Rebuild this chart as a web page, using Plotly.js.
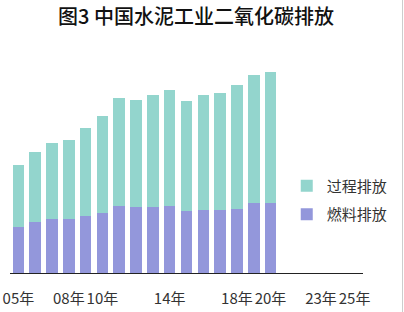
<!DOCTYPE html>
<html>
<head>
<meta charset="utf-8">
<script src="https://cdn.plot.ly/plotly-3.0.1.min.js"></script>
<style>html,body{margin:0;padding:0;background:#fff;}#chart{width:404px;height:312px;}</style>
</head>
<body>
<div id="chart"></div>
<script>
var years = [2005,2006,2007,2008,2009,2010,2011,2012,2013,2014,2015,2016,2017,2018,2019,2020];
var fuelEmission = [278,306,326,326,344,362,404,396,396,404,372,380,380,386,420,420];
var processEmission = [370,420,452,470,528,580,644,640,670,696,658,686,702,740,768,784];
var tickYears = [2005,2008,2010,2014,2018,2020,2023,2025];
var tickLabels = ['05年','08年','10年','14年','18年','20年','23年','25年'];
var seriesNames = ['燃料排放','过程排放'];

var FONT = '"Noto Sans CJK SC", "Noto Sans", sans-serif';

var data = [
  {type:'bar', name:seriesNames[0], x:years, y:fuelEmission, legendgroup:'fuel', legendrank:2,
   marker:{color:'#9397db', line:{width:0}}},
  {type:'bar', name:seriesNames[1], x:years, y:processEmission, legendgroup:'process', legendrank:1,
   marker:{color:'#93d5cd', line:{width:0}}}
];

var layout = {
  width:404, height:312,
  margin:{l:10, r:41, t:60, b:39},
  paper_bgcolor:'#ffffff', plot_bgcolor:'#ffffff',
  font:{family:FONT, color:'#333'},
  title:{text:'图3 中国水泥工业二氧化碳排放', font:{family:FONT, size:20, color:'#111', weight:500},
         x:0.485, xanchor:'center', y:0.945, yanchor:'middle', yref:'container'},
  barmode:'stack', bargap:0.31,
  xaxis:{type:'linear', range:[2004.5,2025.5], tickvals:tickYears, ticktext:tickLabels,
         tickangle:0, automargin:false,
         showline:true, linecolor:'#222', linewidth:1, showgrid:false, zeroline:false,
         ticks:'', ticklabelstandoff:12, tickfont:{family:FONT, size:15, color:'#333'}},
  yaxis:{visible:false, range:[0,1278], showgrid:false, zeroline:false},
  showlegend:true,
  legend:{x:0.784, xanchor:'left', y:0.343, yanchor:'middle', traceorder:'grouped',
          tracegroupgap:6, bgcolor:'rgba(0,0,0,0)', font:{family:FONT, size:15, color:'#333'}},
  shapes:[{type:'line', xref:'paper', yref:'paper', x0:1.112, x1:1.112, y0:-0.2, y1:1.3,
           line:{color:'#cccccc', width:1}}]
};

Plotly.newPlot('chart', data, layout, {staticPlot:true, displayModeBar:false});
</script>
</body>
</html>
